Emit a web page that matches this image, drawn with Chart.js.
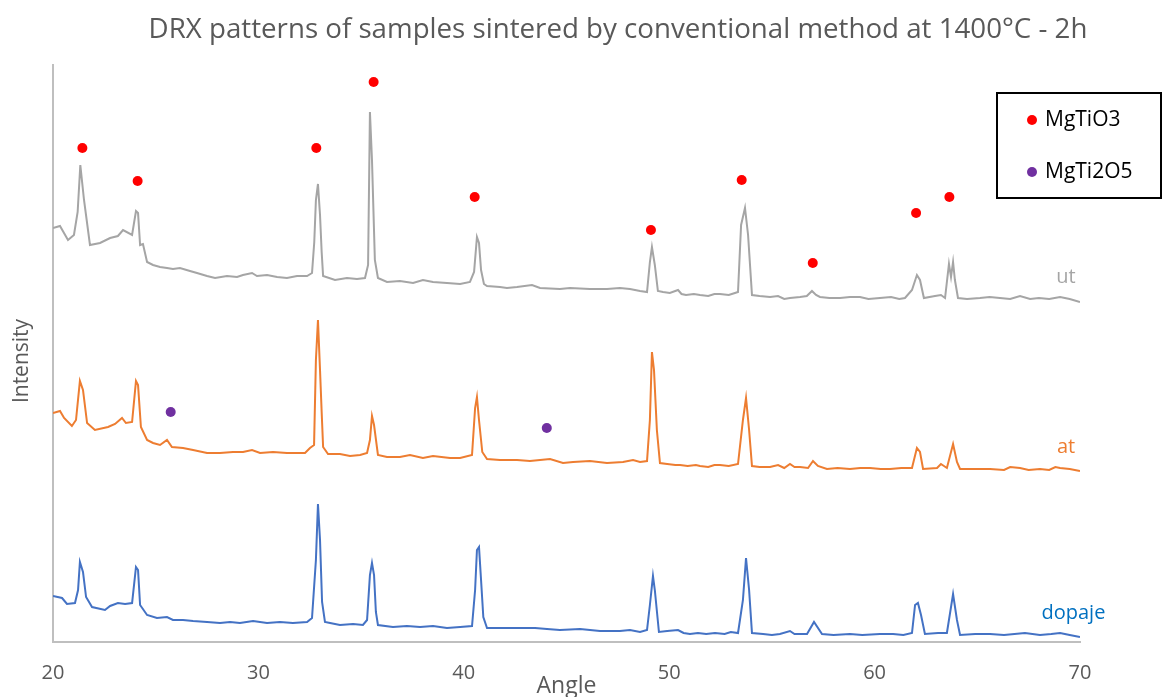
<!DOCTYPE html>
<html>
<head>
<meta charset="utf-8">
<script src="https://cdn.jsdelivr.net/npm/chart.js@4.4.0/dist/chart.umd.min.js"></script>
<style>
  html, body { margin: 0; padding: 0; background: #fff; }
  #wrap { width: 1164px; height: 697px; }
</style>
</head>
<body>
<div id="wrap"><canvas id="drxChart" width="1164" height="697"></canvas></div>
<script>
// angle (2theta) and intensity (a.u., curves stacked with an offset)
const utAngle = [
  20.00, 20.34, 20.73, 21.02, 21.20, 21.33, 21.51, 21.80, 22.29, 22.78,
  23.16, 23.41, 23.85, 24.04, 24.14, 24.24, 24.38, 24.58, 24.87, 25.21,
  25.55, 25.84, 26.18, 26.67, 27.01, 27.50, 27.89, 28.47, 28.96, 29.25,
  29.69, 29.93, 30.42, 30.91, 31.39, 31.88, 32.37, 32.61, 32.72, 32.80,
  32.90, 33.00, 33.08, 33.15, 33.73, 34.31, 34.80, 35.19, 35.34, 35.43,
  35.53, 35.67, 35.82, 36.26, 36.89, 37.53, 38.01, 38.50, 39.18, 39.82,
  40.30, 40.50, 40.64, 40.74, 40.84, 40.98, 41.13, 41.76, 42.10, 42.59,
  43.32, 43.71, 44.68, 45.17, 46.14, 46.97, 47.60, 48.09, 48.58, 48.92,
  49.06, 49.16, 49.30, 49.45, 49.70, 50.03, 50.43, 50.60, 50.82, 51.20,
  51.50, 51.90, 52.20, 52.47, 52.90, 53.20, 53.35, 53.50, 53.69, 53.84,
  54.03, 54.40, 54.91, 55.30, 55.60, 55.88, 56.37, 56.70, 56.95, 57.15,
  57.34, 57.80, 58.32, 58.80, 59.29, 59.70, 60.26, 60.80, 61.20, 61.48,
  61.82, 62.06, 62.21, 62.40, 62.94, 63.23, 63.43, 63.62, 63.72, 63.82,
  63.91, 64.06, 64.50, 65.13, 65.60, 66.10, 66.60, 67.08, 67.57, 68.00,
  68.50, 69.03, 69.50, 70.00];
const utIntensity = [
  414, 416, 402, 407, 430, 477, 442, 397, 399, 404,
  406, 412, 407, 431, 429, 397, 398, 380, 377, 375,
  374, 373, 374, 371, 369, 366, 364, 366, 365, 367,
  369, 366, 367, 365, 364, 366, 366, 369, 400, 442,
  458, 427, 390, 366, 362, 364, 363, 364, 377, 530,
  482, 382, 364, 360, 361, 359, 362, 360, 359, 358,
  360, 370, 405, 399, 372, 358, 356, 355, 354, 355,
  357, 354, 353, 354, 353, 353, 354, 353, 351, 350,
  380, 395, 377, 351, 350, 349, 352, 348, 347, 348,
  347, 346, 348, 348, 347, 349, 350, 417, 434, 407,
  347, 346, 345, 346, 343, 344, 345, 346, 351, 347,
  345, 344, 344, 345, 345, 343, 344, 345, 343, 344,
  352, 367, 362, 344, 346, 347, 344, 378, 365, 380,
  362, 344, 343, 344, 345, 344, 343, 346, 343, 344,
  343, 345, 343, 340];

const atAngle = [
  20.00, 20.34, 20.54, 20.92, 21.12, 21.31, 21.46, 21.66, 22.04, 22.68,
  23.02, 23.36, 23.55, 23.85, 24.04, 24.14, 24.28, 24.58, 24.87, 25.21,
  25.55, 25.79, 26.33, 26.82, 27.50, 28.13, 28.76, 29.25, 29.69, 30.08,
  30.71, 31.39, 31.88, 32.27, 32.51, 32.71, 32.80, 32.90, 33.00, 33.08,
  33.15, 33.39, 33.97, 34.46, 34.95, 35.29, 35.43, 35.53, 35.63, 35.82,
  36.26, 36.89, 37.38, 38.01, 38.50, 39.33, 39.82, 40.40, 40.55, 40.64,
  40.74, 40.90, 41.13, 41.76, 42.59, 43.22, 44.20, 44.83, 45.32, 46.14,
  46.97, 47.75, 48.24, 48.58, 48.92, 49.06, 49.16, 49.26, 49.40, 49.55,
  49.90, 50.30, 50.53, 50.90, 51.30, 51.50, 51.90, 52.20, 52.47, 52.90,
  53.35, 53.59, 53.74, 53.89, 54.03, 54.40, 54.91, 55.30, 55.60, 55.88,
  56.10, 56.37, 56.76, 57.00, 57.24, 57.68, 58.20, 58.80, 59.30, 59.78,
  60.30, 60.75, 61.30, 61.82, 62.06, 62.21, 62.36, 63.04, 63.23, 63.52,
  63.82, 64.01, 64.16, 64.90, 65.62, 66.30, 66.60, 67.08, 67.50, 68.05,
  68.50, 68.80, 69.03, 69.50, 70.00];
const atIntensity = [
  229, 231, 224, 216, 222, 261, 252, 219, 212, 215,
  218, 224, 219, 220, 261, 257, 215, 202, 199, 197,
  202, 195, 194, 192, 189, 189, 190, 190, 192, 189,
  190, 189, 189, 189, 194, 197, 282, 322, 272, 230,
  195, 188, 188, 186, 187, 189, 202, 226, 217, 187,
  185, 185, 187, 184, 186, 184, 184, 187, 234, 245,
  222, 190, 183, 182, 182, 181, 183, 179, 180, 181,
  179, 180, 182, 180, 181, 222, 290, 272, 212, 179,
  178, 177, 177, 176, 177, 176, 175, 177, 177, 176,
  178, 222, 244, 212, 176, 175, 175, 177, 174, 178,
  175, 175, 174, 181, 176, 173, 174, 173, 174, 174,
  173, 173, 174, 174, 194, 190, 173, 174, 178, 174,
  198, 180, 173, 173, 173, 172, 175, 174, 172, 173,
  172, 175, 174, 173, 171];

const dopajeAngle = [
  20.00, 20.44, 20.68, 21.07, 21.22, 21.31, 21.46, 21.61, 21.90, 22.53,
  22.78, 23.16, 23.51, 23.85, 24.04, 24.14, 24.24, 24.58, 25.06, 25.55,
  25.84, 26.33, 26.82, 27.50, 28.13, 28.62, 29.10, 29.74, 30.42, 31.05,
  31.68, 32.37, 32.61, 32.80, 32.90, 33.00, 33.10, 33.24, 33.49, 33.97,
  34.61, 35.09, 35.29, 35.43, 35.53, 35.63, 35.72, 35.82, 36.55, 37.23,
  37.87, 38.50, 39.18, 39.82, 40.40, 40.55, 40.64, 40.74, 40.84, 40.95,
  41.13, 41.76, 42.59, 43.47, 44.05, 44.68, 45.66, 46.63, 47.60, 48.09,
  48.58, 48.92, 49.06, 49.21, 49.30, 49.50, 49.90, 50.43, 50.70, 51.01,
  51.40, 51.80, 52.23, 52.70, 53.00, 53.35, 53.59, 53.74, 53.89, 54.03,
  54.57, 55.00, 55.39, 55.88, 56.10, 56.37, 56.71, 57.05, 57.44, 58.00,
  58.80, 59.40, 60.26, 60.90, 61.40, 61.82, 61.97, 62.11, 62.26, 62.45,
  63.09, 63.52, 63.82, 64.01, 64.16, 64.90, 65.62, 66.30, 67.32, 68.05,
  68.60, 69.03, 69.50, 70.00];
const dopajeIntensity = [
  46, 44, 38, 39, 52, 80, 70, 45, 35, 32,
  36, 39, 38, 39, 75, 72, 37, 27, 24, 25,
  22, 22, 21, 20, 19, 20, 19, 21, 19, 20,
  19, 20, 24, 82, 138, 102, 40, 20, 19, 17,
  18, 17, 22, 67, 79, 67, 30, 17, 15, 16,
  15, 16, 14, 15, 16, 52, 92, 95, 62, 25,
  14, 14, 14, 14, 13, 12, 13, 11, 11, 12,
  10, 12, 37, 66, 52, 10, 11, 12, 9, 8,
  9, 8, 9, 8, 10, 9, 42, 84, 52, 9,
  8, 7, 8, 11, 8, 8, 8, 20, 8, 7,
  8, 7, 8, 8, 7, 9, 37, 39, 27, 8,
  9, 9, 48, 22, 7, 8, 8, 7, 9, 7,
  8, 9, 7, 5];

// phase markers
const mgTiO3Angle = [21.43, 24.12, 32.82, 35.61, 40.53, 49.11, 53.53, 56.99, 62.02, 63.64];
const mgTiO3Level = [494, 461, 494, 560, 445, 412, 462, 379, 429, 445];
const mgTi2O5Angle = [25.73, 44.04];
const mgTi2O5Level = [230, 214];

// series name labels placed at the end of each curve
const seriesNames = ['ut', 'at', 'dopaje'];
const seriesColors = ['#A5A5A5', '#ED7D31', '#4472C4'];
const nameColors = ['#A5A5A5', '#ED7D31', '#0070C0'];
const nameAngle = [69.32, 69.32, 69.68];
const nameLevel = [365, 195, 29];

const legendNames = ['MgTiO3', 'MgTi2O5'];
const legendColors = ['#FF0000', '#7030A0'];

function pts(xs, ys) {
  return xs.map((x, i) => ({ x: x, y: ys[i] }));
}

const curveData = [pts(utAngle, utIntensity), pts(atAngle, atIntensity), pts(dopajeAngle, dopajeIntensity)];

const datasets = [];
datasets.push({ label: legendNames[0], data: pts(mgTiO3Angle, mgTiO3Level), showLine: false,
  pointRadius: 5, pointBackgroundColor: legendColors[0], pointBorderWidth: 0 });
datasets.push({ label: legendNames[1], data: pts(mgTi2O5Angle, mgTi2O5Level), showLine: false,
  pointRadius: 5, pointBackgroundColor: legendColors[1], pointBorderWidth: 0 });
seriesNames.forEach((n, i) => {
  datasets.push({ label: n, data: curveData[i], showLine: true, borderColor: seriesColors[i],
    borderWidth: 2, pointRadius: 0, tension: 0, fill: false });
});

const textColor = '#595959';
Chart.defaults.font.family = "'Open Sans', sans-serif";

const extras = {
  id: 'extras',
  afterDraw(chart) {
    const ctx = chart.ctx;
    const xs = chart.scales.x, ys = chart.scales.y;
    ctx.save();
    // title
    ctx.fillStyle = textColor;
    ctx.font = "27.7px 'Open Sans', sans-serif";
    ctx.textAlign = 'center';
    ctx.textBaseline = 'middle';
    ctx.fillText('DRX patterns of samples sintered by conventional method at 1400°C - 2h', 618, 30);
    // y axis title
    ctx.save();
    ctx.translate(22, 361);
    ctx.rotate(-Math.PI / 2);
    ctx.font = "21px 'Open Sans', sans-serif";
    ctx.fillText('Intensity', 0, 0);
    ctx.restore();
    // series names
    ctx.font = "20px 'Open Sans', sans-serif";
    seriesNames.forEach((n, i) => {
      ctx.fillStyle = nameColors[i];
      ctx.fillText(n, xs.getPixelForValue(nameAngle[i]), ys.getPixelForValue(nameLevel[i]));
    });
    // legend box
    ctx.strokeStyle = '#000';
    ctx.lineWidth = 2;
    ctx.strokeRect(997, 93, 164, 105);
    ctx.textAlign = 'left';
    ctx.font = "21px 'Open Sans', sans-serif";
    legendNames.forEach((n, i) => {
      const cy = 120 + i * 52;
      ctx.fillStyle = legendColors[i];
      ctx.beginPath();
      ctx.arc(1032, cy, 5, 0, Math.PI * 2);
      ctx.fill();
      ctx.fillStyle = '#000';
      ctx.fillText(n, 1045, cy);
    });
    ctx.restore();
  }
};

new Chart(document.getElementById('drxChart'), {
  type: 'scatter',
  data: { datasets: datasets },
  options: {
    responsive: false,
    animation: false,
    layout: { padding: { top: 65, right: 84, left: 0, bottom: 0 } },
    plugins: { legend: { display: false }, tooltip: { enabled: false } },
    scales: {
      x: {
        type: 'linear', min: 20, max: 70,
        ticks: { stepSize: 10, color: textColor, font: { size: 20 }, padding: 19 },
        grid: { display: false, drawTicks: false },
        border: { display: true, color: '#BFBFBF', width: 2 },
        title: { display: true, text: 'Angle', color: textColor, font: { size: 23, lineHeight: 1 }, padding: { top: 0, bottom: -1 } },
        afterFit(s) { s.height = 55; }
      },
      y: {
        min: 0, max: 577,
        ticks: { display: false },
        grid: { display: false, drawTicks: false },
        border: { display: true, color: '#BFBFBF', width: 2 },
        title: { display: false },
        afterFit(s) { s.width = 53; }
      }
    }
  },
  plugins: [extras]
});
</script>
</body>
</html>
